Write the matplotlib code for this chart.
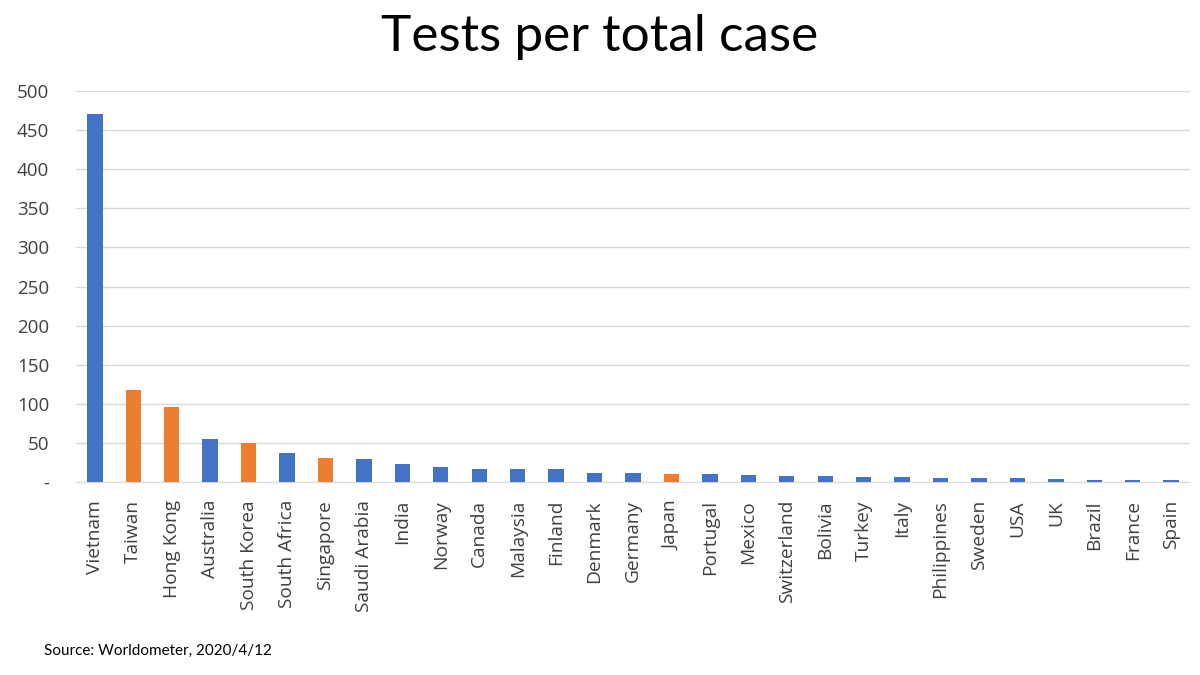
import matplotlib.pyplot as plt

countries = ["Vietnam", "Taiwan", "Hong Kong", "Australia", "South Korea", "South Africa",
             "Singapore", "Saudi Arabia", "India", "Norway", "Canada", "Malaysia", "Finland",
             "Denmark", "Germany", "Japan", "Portugal", "Mexico", "Switzerland", "Bolivia",
             "Turkey", "Italy", "Philippines", "Sweden", "USA", "UK", "Brazil", "France", "Spain"]
tests_per_case = [471, 118, 96, 55, 50, 37, 31, 29, 23, 19, 17, 16, 16,
                  11, 11, 10, 10, 8.5, 7.5, 7.2, 6, 6, 5, 5, 5, 3.5, 2.5, 2.5, 2.5]
highlight = ["Taiwan", "Hong Kong", "South Korea", "Singapore", "Japan"]

BLUE = "#4472C4"
ORANGE = "#ED7D31"

plt.rcParams["font.family"] = ["Open Sans", "DejaVu Sans"]

fig = plt.figure(figsize=(12, 6.75), dpi=100)
ax = fig.add_axes([0.063, 0.286, 0.929, 0.579])

colors = [ORANGE if c in highlight else BLUE for c in countries]
x = range(len(countries))
ax.bar(x, tests_per_case, width=0.4, color=colors, zorder=3)

ax.set_xlim(-0.5, len(countries) - 0.5)
ax.set_ylim(0, 500)
ax.set_yticks(range(0, 501, 50))
ax.set_yticklabels(["-"] + [str(v) for v in range(50, 501, 50)], fontsize=13.5, color="#404040")
ax.set_xticks(list(x))
ax.set_xticklabels(countries, rotation=90, fontsize=13.8, color="#404040")
ax.tick_params(axis="x", length=0, pad=13)
ax.tick_params(axis="y", length=0, pad=19)
ax.yaxis.grid(True, color="#D9D9D9", linewidth=1, zorder=0)
for s in ["top", "right", "left"]:
    ax.spines[s].set_visible(False)
ax.spines["bottom"].set_color("#D9D9D9")

fig.text(0.5, 0.945, "Tests per total case", ha="center", va="center",
         fontsize=37, family=["Lato", "DejaVu Sans"])
fig.text(0.037, 0.035, "Source: Worldometer, 2020/4/12", ha="left", va="center",
         fontsize=11, family=["Lato", "DejaVu Sans"])

fig.savefig("out.png", dpi=100)
